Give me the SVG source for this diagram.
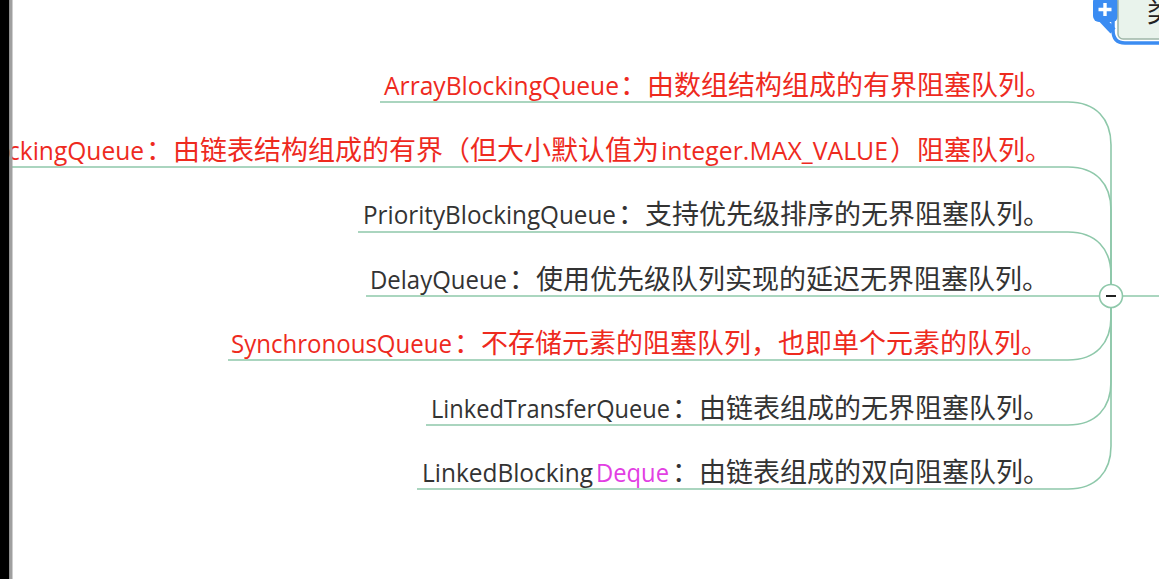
<svg xmlns="http://www.w3.org/2000/svg" width="1159" height="579" viewBox="0 0 1159 579">
  <style>
    .lat { font-family: "Open Sans", "Noto Sans", "Liberation Sans", sans-serif; font-size: 25px; }
    .cjk { font-family: "Noto Sans CJK SC", "Noto Sans", sans-serif; font-size: 27px; }
    .red { fill: #ee2a1e; }
    .dark { fill: #333333; }
    .mag { fill: #e23fe3; }
    .branch { fill: none; stroke: #8ec8aa; stroke-width: 1.6; }
  </style>
  <rect x="0" y="0" width="1159" height="579" fill="#ffffff"/>

  <g id="connectors">
    <path class="branch" d="M1111,285 V145 C1111,119 1096,102 1068,102 H380"/>
    <path class="branch" d="M1111,285 V210 C1111,184 1096,167 1068,167 H12"/>
    <path class="branch" d="M1111,285 V275 C1111,249 1096,232 1068,232 H358"/>
    <path class="branch" d="M1099,296 H366"/>
    <path class="branch" d="M1111,307 V317 C1111,343 1096,360 1068,360 H228"/>
    <path class="branch" d="M1111,307 V382 C1111,408 1096,425 1068,425 H426"/>
    <path class="branch" d="M1111,307 V446 C1111,472 1096,489 1068,489 H417"/>
    <path class="branch" d="M1123,296 H1159"/>
  </g>

  <g id="collapse">
    <circle cx="1111" cy="296" r="11.5" fill="#ffffff" stroke="#8ec8aa" stroke-width="1.6"/>
    <line x1="1106" y1="296" x2="1116" y2="296" stroke="#222" stroke-width="2"/>
  </g>

  <g id="n1">
    <text y="95"><tspan class="lat red" x="384" textLength="235" lengthAdjust="spacingAndGlyphs">ArrayBlockingQueue</tspan><tspan class="cjk red" x="620">：由数组结构组成的有界阻塞队列。</tspan></text>
  </g>
  <g id="n2">
    <text y="160"><tspan class="lat red" x="8" textLength="136" lengthAdjust="spacingAndGlyphs">ckingQueue</tspan><tspan class="cjk red" x="146">：由链表结构组成的有界（但大小默认值为</tspan><tspan class="lat red" x="661" textLength="227" lengthAdjust="spacingAndGlyphs">integer.MAX_VALUE</tspan><tspan class="cjk red" x="890">）阻塞队列。</tspan></text>
  </g>
  <g id="n3">
    <text y="224"><tspan class="lat dark" x="363" textLength="253" lengthAdjust="spacingAndGlyphs">PriorityBlockingQueue</tspan><tspan class="cjk dark" x="618">：支持优先级排序的无界阻塞队列。</tspan></text>
  </g>
  <g id="n4">
    <text y="289"><tspan class="lat dark" x="370" textLength="137" lengthAdjust="spacingAndGlyphs">DelayQueue</tspan><tspan class="cjk dark" x="509">：使用优先级队列实现的延迟无界阻塞队列。</tspan></text>
  </g>
  <g id="n5">
    <text y="353"><tspan class="lat red" x="231" textLength="221" lengthAdjust="spacingAndGlyphs">SynchronousQueue</tspan><tspan class="cjk red" x="454">：不存储元素的阻塞队列，也即单个元素的队列。</tspan></text>
  </g>
  <g id="n6">
    <text y="418"><tspan class="lat dark" x="431" textLength="239" lengthAdjust="spacingAndGlyphs">LinkedTransferQueue</tspan><tspan class="cjk dark" x="672">：由链表组成的无界阻塞队列。</tspan></text>
  </g>
  <g id="n7">
    <text y="482"><tspan class="lat dark" x="422" textLength="171" lengthAdjust="spacingAndGlyphs">LinkedBlocking</tspan><tspan class="lat mag" x="596" textLength="73" lengthAdjust="spacingAndGlyphs">Deque</tspan><tspan class="cjk dark" x="672">：由链表组成的双向阻塞队列。</tspan></text>
  </g>

  <g id="topnode">
    <path d="M1113,-6 V30 Q1113,43 1125,43 H1165" fill="none" stroke="#3b8cf2" stroke-width="3.5" stroke-linejoin="round"/>
    <path d="M1097,14 L1113,31" stroke="#3b8cf2" stroke-width="7"/>
    <rect x="1093" y="-4" width="25" height="26" rx="6" fill="#3b8cf2"/>
    <path d="M1105,3 V16 M1098.5,9.5 H1111.5" stroke="#ffffff" stroke-width="3.4"/>
    <rect x="1118" y="-10" width="50" height="49" rx="5" fill="#e9f3ec" stroke="#9fb7a8" stroke-width="1.5"/>
    <text x="1147" y="22" class="cjk" fill="#222" font-size="28">类</text>
  </g>

  <g id="frame">
    <rect x="0" y="0" width="9.5" height="579" fill="#000000"/>
    <rect x="9.5" y="0" width="3" height="579" fill="#a0a0a0"/>
  </g>
</svg>
